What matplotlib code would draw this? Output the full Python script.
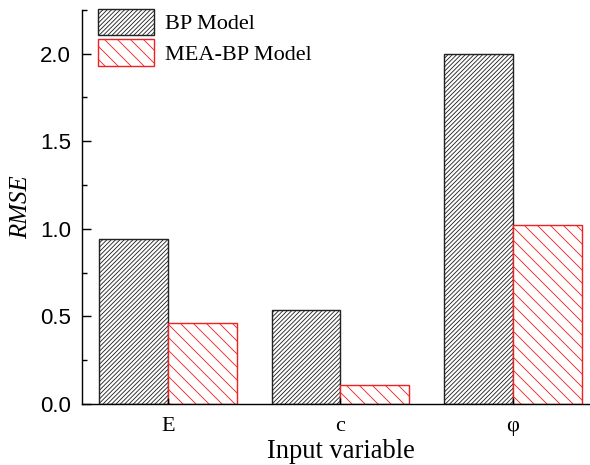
import matplotlib.pyplot as plt
import numpy as np
from matplotlib.ticker import MultipleLocator

# RMSE of each input variable for the two models
variables = ['E', 'c', 'φ']
bp_rmse = [0.94, 0.535, 2.0]
mea_bp_rmse = [0.465, 0.11, 1.02]

plt.rcParams['hatch.linewidth'] = 0.8

dpi = 78
fig = plt.figure(figsize=(590 / dpi, 465 / dpi), dpi=dpi)
ax = fig.add_axes([0.139, 0.131, 0.876, 0.848])

x = np.arange(1, len(variables) + 1)
w = 0.4
ax.bar(x - w / 2, bp_rmse, w, facecolor='white', edgecolor='#222222',
       hatch='//////', linewidth=1.3, label='BP Model')
ax.bar(x + w / 2, mea_bp_rmse, w, facecolor='white', edgecolor='#ee2222',
       hatch='\\\\', linewidth=1.3, label='MEA-BP Model')

ax.set_xlim(0.5, 3.5)
ax.set_ylim(0, 2.25)
ax.set_xticks(x)
ax.set_xticklabels(variables, fontfamily='Liberation Serif', fontsize=20.5)
ax.yaxis.set_major_locator(MultipleLocator(0.5))
ax.yaxis.set_minor_locator(MultipleLocator(0.25))
ax.yaxis.set_major_formatter(plt.FormatStrFormatter('%.1f'))
for lab in ax.get_yticklabels():
    lab.set_fontfamily('Liberation Sans')
    lab.set_fontsize(20.5)

ax.tick_params(axis='both', which='major', direction='in', length=8, width=1.3)
ax.tick_params(axis='y', which='major', pad=10)
ax.tick_params(axis='x', which='major', length=6, pad=12)
ax.tick_params(axis='y', which='minor', direction='in', length=4.5, width=1.3)

for side in ['top', 'right']:
    ax.spines[side].set_visible(False)
for side in ['left', 'bottom']:
    ax.spines[side].set_linewidth(1.3)

ax.set_xlabel('Input variable', fontfamily='Liberation Serif', fontsize=24.5, labelpad=3)
ax.set_ylabel('RMSE', fontfamily='Liberation Serif', fontstyle='italic', fontsize=23, labelpad=7)

ax.legend(loc='upper left', bbox_to_anchor=(0.031, 1.003), frameon=False,
          prop={'family': 'Liberation Serif', 'size': 20.5},
          handlelength=2.5, handleheight=1.45, handletextpad=0.5,
          labelspacing=0.2, borderaxespad=0, borderpad=0)

fig.savefig('out.png', dpi=dpi)
